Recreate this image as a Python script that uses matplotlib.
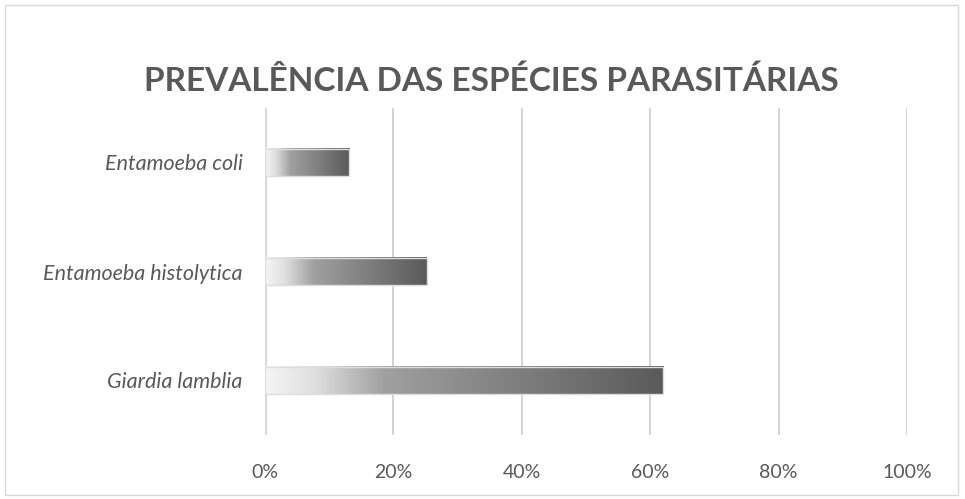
import matplotlib
matplotlib.use("Agg")
import matplotlib.pyplot as plt
from matplotlib.colors import LinearSegmentedColormap
from matplotlib.patches import Rectangle
import numpy as np

# data
especies = ["Giardia lamblia", "Entamoeba histolytica", "Entamoeba coli"]
prevalencia = [62, 25.2, 13.1]
xticks = [0, 20, 40, 60, 80, 100]

plt.rcParams['font.family'] = ['Lato', 'DejaVu Sans']
grey_txt = '#595959'

fig = plt.figure(figsize=(9.65, 4.99), dpi=100)
ax = fig.add_axes([265/965, 1-435/499, (907-265)/965, (435-108)/499])

cmap = LinearSegmentedColormap.from_list(
    "grad", [(0, '#f5f5f5'), (0.12, '#e0e0e0'), (0.3, '#a0a0a0'), (1, '#5a5a5a')])
grad = np.linspace(0, 1, 256).reshape(1, -1)

h = 0.25
for i, v in enumerate(prevalencia):
    ax.imshow(grad, cmap=cmap, aspect='auto', extent=(0, v, i - h/2, i + h/2),
              zorder=3, interpolation='bilinear')
    ax.add_patch(Rectangle((0, i - h/2), v, h, fill=False, ec='#dddddd',
                           lw=1, zorder=4))

ax.set_xlim(0, 100)
ax.set_ylim(-0.5, 2.5)
ax.set_xticks(xticks)
ax.set_xticklabels([f"{t}%" for t in xticks], fontsize=14, color=grey_txt)
ax.set_yticks(range(len(especies)))
ax.set_yticklabels(especies, fontsize=15.5, color=grey_txt, style='italic')
ax.tick_params(length=0, pad=16, axis='y')
ax.tick_params(length=0, pad=21, axis='x')
ax.grid(axis='x', color='#d0d0d0', lw=1.3, zorder=0)
for s in ax.spines.values():
    s.set_visible(False)
ax.axvline(0, color='#d9d9d9', lw=3, zorder=2)

fig.text(491/965, 1-81/499, "PREVALÊNCIA DAS ESPÉCIES PARASITÁRIAS", ha='center',
         va='center', fontsize=24, fontweight='bold', color=grey_txt)

fig.add_artist(Rectangle((5/965, 4/499), 953/965, 490/499, fill=False,
                         ec='#d9d9d9', lw=1, transform=fig.transFigure))

fig.savefig("out.png", dpi=100)
